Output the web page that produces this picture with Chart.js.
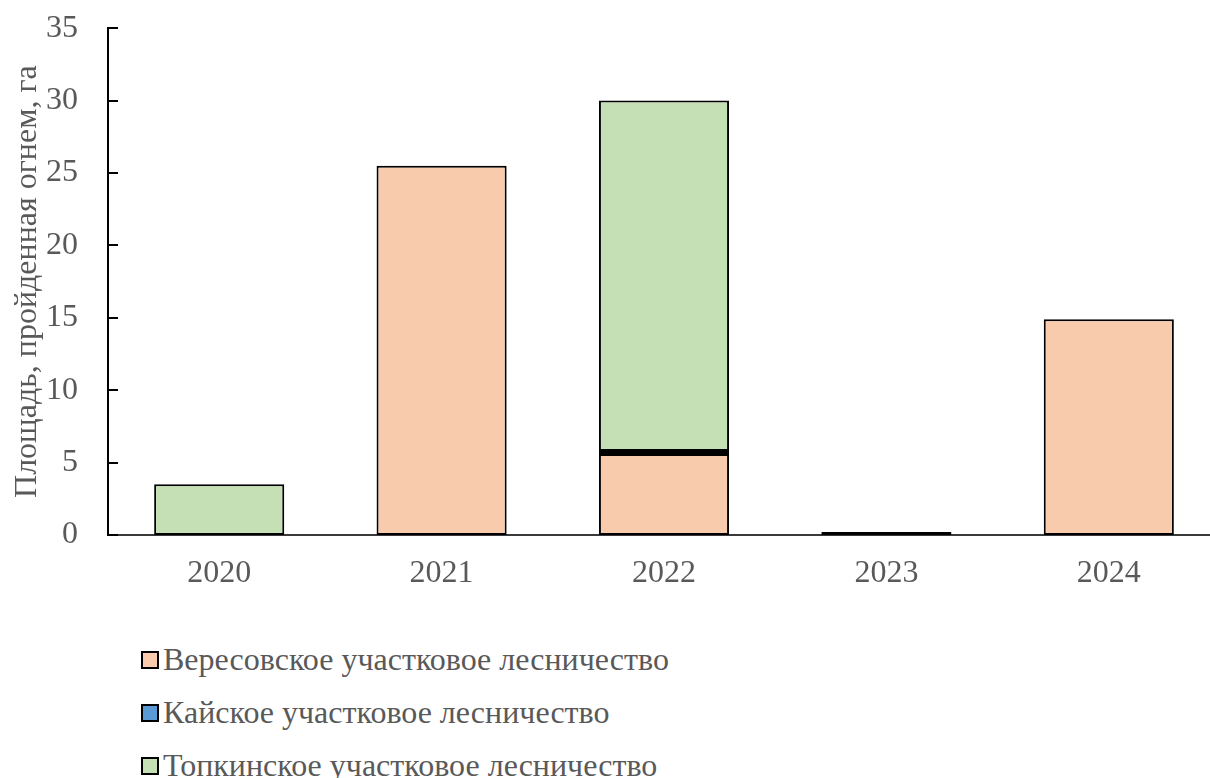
<!DOCTYPE html>
<html lang="ru">
<head>
    <meta charset="UTF-8">
    <title>Площадь, пройденная огнем</title>
    <script src="https://cdn.jsdelivr.net/npm/chart.js"></script>
    <style>
        body { margin: 0; background: #fff; overflow: hidden; width: 1210px; height: 778px; position: relative; }
        #wrap { position: absolute; left: 0; top: -21px; width: 1220px; height: 631px; }
        #legend { position: absolute; left: 141px; top: 632px; font-family: "Liberation Serif", serif; font-size: 32px; line-height: 40px; color: #595959; }
        #legend div { height: 53px; display: flex; align-items: center; }
        #legend span.box { display: inline-block; width: 14px; height: 14px; border: 2px solid #000; margin: 2px 4px 0 0; }
    </style>
</head>
<body>
    <div id="wrap"><canvas id="fires" width="1220" height="631"></canvas></div>
    <div id="legend"></div>
    <script>
        const years = ['2020', '2021', '2022', '2023', '2024'];
        const veresovskoe = [0, 25.5, 5.6, 0, 14.9];
        const kaiskoe = [0, 0, 0.2, 0.2, 0];
        const topkinskoe = [3.5, 0, 24.2, 0, 0];
        const yTicks = [0, 5, 10, 15, 20, 25, 30, 35];

        const series = [
            { label: 'Вересовское участковое лесничество', data: veresovskoe, color: '#F8CBAD' },
            { label: 'Кайское участковое лесничество', data: kaiskoe, color: '#5B9BD5' },
            { label: 'Топкинское участковое лесничество', data: topkinskoe, color: '#C5E0B4' }
        ];

        const font = { family: '"Liberation Serif", serif', size: 32 };
        const grey = '#595959';

        // small tick marks pointing into the plot from the value axis
        const innerTicks = {
            id: 'innerTicks',
            afterDraw(chart) {
                const y = chart.scales.y, ctx = chart.ctx;
                ctx.save();
                ctx.strokeStyle = '#000';
                ctx.lineWidth = 2;
                yTicks.forEach(v => {
                    const py = Math.round(y.getPixelForValue(v));
                    ctx.beginPath();
                    ctx.moveTo(y.right, py);
                    ctx.lineTo(y.right + 10, py);
                    ctx.stroke();
                });
                ctx.restore();
            }
        };

        new Chart(document.getElementById('fires'), {
            type: 'bar',
            data: {
                labels: years,
                datasets: series.map(s => ({
                    label: s.label,
                    data: s.data,
                    backgroundColor: s.color,
                    borderColor: '#000',
                    borderWidth: 2,
                    borderSkipped: false,
                    categoryPercentage: 1,
                    barPercentage: 0.585
                }))
            },
            options: {
                responsive: false,
                devicePixelRatio: 1,
                animation: false,
                layout: { padding: { top: 7, right: 0, left: 0, bottom: 0 } },
                plugins: { legend: { display: false }, tooltip: { enabled: false } },
                scales: {
                    x: {
                        stacked: true,
                        grid: { display: false, drawTicks: false },
                        border: { color: '#3a3a3a', width: 2 },
                        ticks: { font, color: grey, padding: 19 },
                        afterFit(scale) { scale.height = 75; }
                    },
                    y: {
                        stacked: true,
                        min: 0,
                        max: 35,
                        afterBuildTicks(scale) { scale.ticks = yTicks.map(v => ({ value: v })); },
                        grid: { display: false, drawTicks: false },
                        border: { color: '#000', width: 2 },
                        ticks: { font, color: grey, padding: 30 },
                        title: {
                            display: true,
                            text: 'Площадь, пройденная огнем, га',
                            font,
                            color: grey,
                            padding: { top: 8, bottom: 0 }
                        },
                        afterFit(scale) { scale.width = 108; }
                    }
                }
            },
            plugins: [innerTicks]
        });

        const legend = document.getElementById('legend');
        series.forEach(s => {
            const row = document.createElement('div');
            row.innerHTML = '<span class="box" style="background:' + s.color + '"></span>' + s.label;
            legend.appendChild(row);
        });
    </script>
</body>
</html>
